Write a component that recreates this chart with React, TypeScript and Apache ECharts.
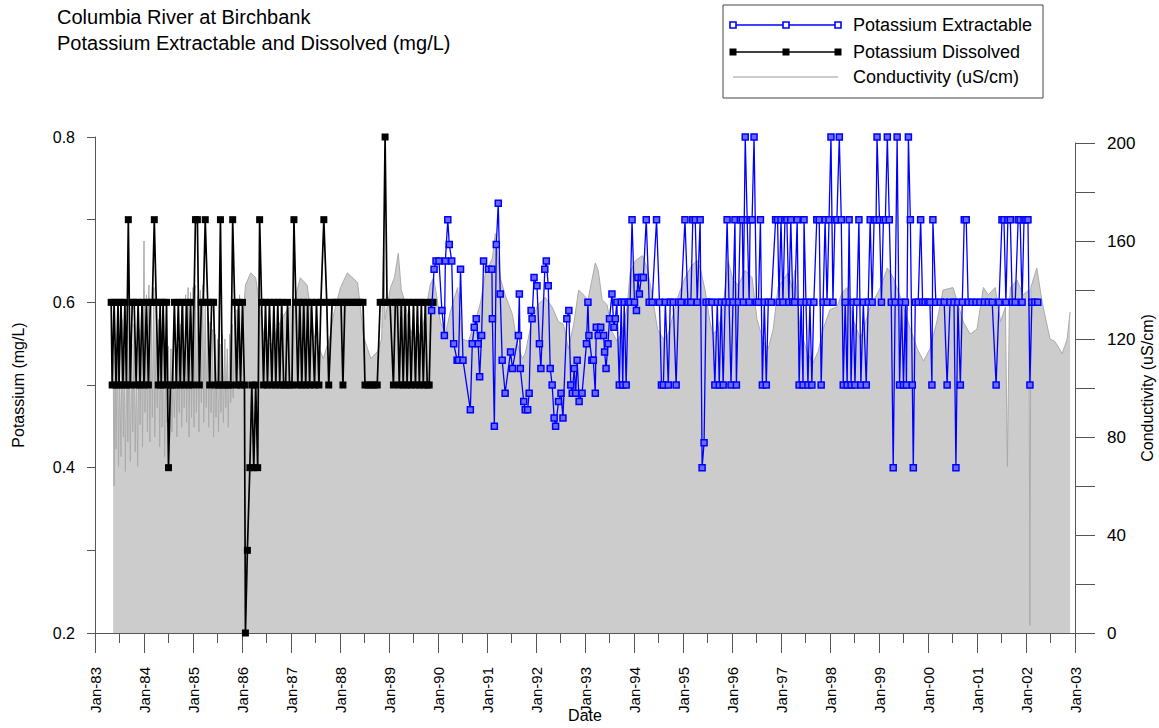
import React, { useEffect, useRef } from 'react';
import * as echarts from 'echarts';

const FONT = '"Liberation Sans", Arial, Helvetica, sans-serif';
const AXIS_COLOR = '#555555';

const titleLines = ['Columbia River at Birchbank', 'Potassium Extractable and Dissolved (mg/L)'];
const legendNames = ['Potassium Extractable', 'Potassium Dissolved', 'Conductivity (uS/cm)'];
const xAxisName = 'Date';
const leftAxisName = 'Potassium (mg/L)';
const rightAxisName = 'Conductivity (uS/cm)';
const potassiumLabels = [0.2, 0.4, 0.6, 0.8];
const conductivityLabels = [0, 40, 80, 120, 160, 200];

// Potassium Dissolved (mg/L): [decimal year, value]
const dissolvedK: [number, number][] = [
  [1983.33, 0.6], [1983.35, 0.5], [1983.39, 0.6], [1983.43, 0.5], [1983.47, 0.6], [1983.49, 0.5],
  [1983.53, 0.6], [1983.57, 0.5], [1983.61, 0.6], [1983.64, 0.5], [1983.68, 0.7], [1983.72, 0.5],
  [1983.76, 0.6], [1983.80, 0.6], [1983.84, 0.5], [1983.88, 0.6], [1983.92, 0.5], [1983.96, 0.6],
  [1984.00, 0.5], [1984.05, 0.6], [1984.09, 0.5], [1984.13, 0.6], [1984.17, 0.6], [1984.21, 0.7],
  [1984.25, 0.6], [1984.29, 0.5], [1984.33, 0.6], [1984.35, 0.5], [1984.39, 0.6], [1984.43, 0.5],
  [1984.46, 0.6], [1984.50, 0.4], [1984.54, 0.5], [1984.58, 0.5], [1984.62, 0.6], [1984.66, 0.5],
  [1984.70, 0.6], [1984.74, 0.5], [1984.78, 0.6], [1984.82, 0.5], [1984.87, 0.6], [1984.91, 0.5],
  [1984.95, 0.6], [1984.99, 0.5], [1985.05, 0.7], [1985.09, 0.7], [1985.13, 0.5], [1985.17, 0.6],
  [1985.21, 0.6], [1985.25, 0.7], [1985.30, 0.6], [1985.34, 0.5], [1985.38, 0.6], [1985.42, 0.6],
  [1985.46, 0.5], [1985.52, 0.5], [1985.56, 0.7], [1985.60, 0.5], [1985.66, 0.5], [1985.72, 0.5],
  [1985.77, 0.5], [1985.81, 0.7], [1985.85, 0.6], [1985.89, 0.5], [1985.93, 0.6], [1985.97, 0.5],
  [1986.01, 0.6], [1986.05, 0.5], [1986.07, 0.2], [1986.11, 0.3], [1986.16, 0.4], [1986.20, 0.5],
  [1986.24, 0.4], [1986.28, 0.5], [1986.32, 0.4], [1986.36, 0.7], [1986.40, 0.6], [1986.44, 0.5],
  [1986.48, 0.6], [1986.52, 0.5], [1986.56, 0.6], [1986.61, 0.5], [1986.65, 0.6], [1986.69, 0.5],
  [1986.73, 0.6], [1986.77, 0.5], [1986.81, 0.6], [1986.85, 0.5], [1986.89, 0.5], [1986.93, 0.6],
  [1986.97, 0.5], [1987.02, 0.5], [1987.06, 0.7], [1987.10, 0.6], [1987.14, 0.5], [1987.18, 0.6],
  [1987.22, 0.5], [1987.26, 0.6], [1987.30, 0.5], [1987.34, 0.6], [1987.38, 0.5], [1987.42, 0.6],
  [1987.48, 0.5], [1987.52, 0.6], [1987.57, 0.5], [1987.61, 0.6], [1987.67, 0.7], [1987.73, 0.6],
  [1987.77, 0.5], [1987.84, 0.6], [1987.90, 0.6], [1987.96, 0.6], [1988.02, 0.6], [1988.06, 0.5],
  [1988.10, 0.6], [1988.16, 0.6], [1988.23, 0.6], [1988.29, 0.6], [1988.35, 0.6], [1988.41, 0.6],
  [1988.47, 0.6], [1988.51, 0.5], [1988.57, 0.5], [1988.64, 0.5], [1988.70, 0.5], [1988.76, 0.5],
  [1988.82, 0.6], [1988.88, 0.6], [1988.92, 0.8], [1988.96, 0.6], [1989.02, 0.6], [1989.09, 0.5],
  [1989.13, 0.6], [1989.17, 0.6], [1989.21, 0.5], [1989.25, 0.6], [1989.29, 0.5], [1989.33, 0.6],
  [1989.37, 0.5], [1989.41, 0.6], [1989.45, 0.5], [1989.50, 0.6], [1989.54, 0.5], [1989.58, 0.6],
  [1989.62, 0.5], [1989.66, 0.6], [1989.70, 0.5], [1989.74, 0.6], [1989.78, 0.5], [1989.82, 0.5],
  [1989.86, 0.6], [1989.90, 0.6],
];

// Potassium Extractable (mg/L): [decimal year, value]
const extractableK: [number, number][] = [
  [1989.87, 0.59], [1989.92, 0.64], [1989.96, 0.65], [1990.02, 0.65], [1990.08, 0.59], [1990.13, 0.56],
  [1990.15, 0.65], [1990.20, 0.70], [1990.23, 0.67], [1990.28, 0.65], [1990.32, 0.55], [1990.39, 0.53],
  [1990.42, 0.53], [1990.46, 0.64], [1990.51, 0.53], [1990.66, 0.47], [1990.70, 0.55], [1990.74, 0.57],
  [1990.78, 0.58], [1990.82, 0.55], [1990.85, 0.51], [1990.89, 0.56], [1990.93, 0.65], [1991.03, 0.64],
  [1991.10, 0.64], [1991.11, 0.58], [1991.15, 0.45], [1991.19, 0.67], [1991.23, 0.72], [1991.27, 0.61],
  [1991.31, 0.53], [1991.37, 0.49], [1991.48, 0.54], [1991.52, 0.52], [1991.64, 0.56], [1991.66, 0.61],
  [1991.68, 0.52], [1991.75, 0.48], [1991.78, 0.47], [1991.83, 0.47], [1991.86, 0.49], [1991.90, 0.59],
  [1991.92, 0.58], [1991.96, 0.63], [1992.02, 0.62], [1992.07, 0.55], [1992.10, 0.52], [1992.18, 0.64],
  [1992.21, 0.65], [1992.25, 0.62], [1992.29, 0.52], [1992.33, 0.50], [1992.37, 0.46], [1992.40, 0.45],
  [1992.46, 0.48], [1992.51, 0.49], [1992.55, 0.46], [1992.63, 0.58], [1992.67, 0.59], [1992.71, 0.50],
  [1992.74, 0.49], [1992.78, 0.52], [1992.81, 0.49], [1992.84, 0.53], [1992.88, 0.48], [1992.94, 0.49],
  [1993.03, 0.55], [1993.06, 0.60], [1993.08, 0.56], [1993.14, 0.53], [1993.17, 0.53], [1993.21, 0.49],
  [1993.23, 0.57], [1993.27, 0.56], [1993.32, 0.57], [1993.38, 0.56], [1993.40, 0.54], [1993.43, 0.52],
  [1993.47, 0.55], [1993.50, 0.58], [1993.55, 0.61], [1993.59, 0.57], [1993.62, 0.58], [1993.65, 0.60],
  [1993.70, 0.50], [1993.74, 0.60], [1993.77, 0.50], [1993.80, 0.60], [1993.84, 0.50], [1993.88, 0.60],
  [1993.92, 0.60], [1993.96, 0.70], [1994.01, 0.60], [1994.05, 0.59], [1994.08, 0.63], [1994.11, 0.61],
  [1994.15, 0.63], [1994.19, 0.63], [1994.25, 0.70], [1994.31, 0.60], [1994.37, 0.60], [1994.46, 0.70],
  [1994.52, 0.60], [1994.56, 0.50], [1994.60, 0.50], [1994.64, 0.60], [1994.70, 0.50], [1994.74, 0.60],
  [1994.80, 0.60], [1994.86, 0.50], [1994.91, 0.60], [1994.96, 0.60], [1995.04, 0.70], [1995.10, 0.60],
  [1995.16, 0.60], [1995.20, 0.70], [1995.25, 0.70], [1995.29, 0.60], [1995.35, 0.70], [1995.39, 0.40],
  [1995.43, 0.43], [1995.47, 0.60], [1995.53, 0.60], [1995.59, 0.60], [1995.65, 0.50], [1995.70, 0.60],
  [1995.74, 0.50], [1995.78, 0.60], [1995.82, 0.50], [1995.86, 0.60], [1995.90, 0.70], [1995.94, 0.60],
  [1995.98, 0.50], [1996.02, 0.60], [1996.06, 0.70], [1996.09, 0.50], [1996.13, 0.60], [1996.17, 0.70],
  [1996.21, 0.70], [1996.23, 0.60], [1996.27, 0.80], [1996.31, 0.70], [1996.35, 0.60], [1996.37, 0.70],
  [1996.41, 0.70], [1996.45, 0.80], [1996.50, 0.60], [1996.54, 0.60], [1996.58, 0.70], [1996.62, 0.50],
  [1996.66, 0.60], [1996.70, 0.50], [1996.74, 0.60], [1996.80, 0.60], [1996.89, 0.70], [1996.93, 0.70],
  [1996.96, 0.60], [1997.00, 0.70], [1997.04, 0.60], [1997.08, 0.70], [1997.12, 0.70], [1997.16, 0.60],
  [1997.20, 0.70], [1997.24, 0.60], [1997.28, 0.60], [1997.33, 0.70], [1997.37, 0.50], [1997.41, 0.60],
  [1997.45, 0.50], [1997.47, 0.70], [1997.51, 0.60], [1997.55, 0.50], [1997.59, 0.60], [1997.63, 0.50],
  [1997.67, 0.60], [1997.73, 0.70], [1997.78, 0.70], [1997.82, 0.50], [1997.86, 0.60], [1997.90, 0.70],
  [1997.94, 0.60], [1997.98, 0.70], [1998.02, 0.80], [1998.06, 0.60], [1998.10, 0.70], [1998.14, 0.70],
  [1998.19, 0.80], [1998.23, 0.70], [1998.27, 0.50], [1998.31, 0.60], [1998.35, 0.50], [1998.39, 0.70],
  [1998.43, 0.50], [1998.47, 0.60], [1998.51, 0.50], [1998.55, 0.60], [1998.59, 0.70], [1998.63, 0.50],
  [1998.68, 0.60], [1998.74, 0.50], [1998.78, 0.60], [1998.82, 0.70], [1998.86, 0.60], [1998.90, 0.70],
  [1998.94, 0.70], [1998.96, 0.80], [1999.01, 0.70], [1999.05, 0.60], [1999.09, 0.70], [1999.13, 0.70],
  [1999.17, 0.80], [1999.21, 0.70], [1999.25, 0.60], [1999.29, 0.40], [1999.33, 0.60], [1999.37, 0.80],
  [1999.42, 0.50], [1999.46, 0.60], [1999.50, 0.50], [1999.54, 0.60], [1999.56, 0.50], [1999.60, 0.80],
  [1999.64, 0.70], [1999.68, 0.50], [1999.70, 0.40], [1999.74, 0.60], [1999.80, 0.60], [1999.85, 0.70],
  [1999.89, 0.60], [1999.94, 0.60], [2000.00, 0.60], [2000.04, 0.60], [2000.08, 0.50], [2000.10, 0.70],
  [2000.16, 0.60], [2000.25, 0.60], [2000.33, 0.60], [2000.39, 0.50], [2000.45, 0.60], [2000.53, 0.60],
  [2000.57, 0.40], [2000.61, 0.60], [2000.66, 0.50], [2000.70, 0.60], [2000.74, 0.70], [2000.78, 0.70],
  [2000.82, 0.60], [2000.90, 0.60], [2000.98, 0.60], [2001.06, 0.60], [2001.15, 0.60], [2001.23, 0.60],
  [2001.31, 0.60], [2001.39, 0.50], [2001.45, 0.60], [2001.51, 0.70], [2001.55, 0.70], [2001.59, 0.60],
  [2001.63, 0.70], [2001.68, 0.70], [2001.72, 0.60], [2001.78, 0.60], [2001.84, 0.70], [2001.88, 0.70],
  [2001.92, 0.60], [2001.96, 0.70], [2002.00, 0.70], [2002.04, 0.70], [2002.08, 0.50], [2002.12, 0.60],
  [2002.18, 0.60], [2002.24, 0.60],
];

// Conductivity (uS/cm): [decimal year, value]
const conductivity: [number, number][] = [
  [1983.37, 112], [1983.39, 60], [1983.41, 118], [1983.43, 75], [1983.46, 125], [1983.48, 68],
  [1983.50, 110], [1983.53, 72], [1983.55, 128], [1983.58, 80], [1983.60, 115], [1983.62, 66],
  [1983.65, 122], [1983.67, 78], [1983.70, 130], [1983.72, 70], [1983.75, 118], [1983.77, 82],
  [1983.80, 126], [1983.82, 74], [1983.85, 112], [1983.87, 68], [1983.90, 124], [1983.92, 85],
  [1983.95, 131], [1983.97, 76], [1984.00, 160], [1984.02, 90], [1984.05, 138], [1984.07, 82],
  [1984.10, 142], [1984.12, 78], [1984.15, 136], [1984.17, 88], [1984.20, 141], [1984.22, 80],
  [1984.25, 133], [1984.27, 92], [1984.30, 128], [1984.32, 76], [1984.35, 124], [1984.37, 84],
  [1984.40, 120], [1984.42, 72], [1984.45, 118], [1984.47, 86], [1984.50, 117], [1984.52, 78],
  [1984.55, 116], [1984.57, 82], [1984.60, 112], [1984.62, 88], [1984.65, 114], [1984.67, 80],
  [1984.70, 118], [1984.72, 90], [1984.75, 126], [1984.77, 84], [1984.80, 134], [1984.82, 92],
  [1984.85, 138], [1984.87, 86], [1984.90, 141], [1984.92, 80], [1984.95, 139], [1984.97, 88],
  [1985.00, 141], [1985.02, 84], [1985.05, 142], [1985.07, 90], [1985.10, 138], [1985.12, 82],
  [1985.15, 140], [1985.17, 94], [1985.20, 142], [1985.22, 86], [1985.25, 136], [1985.27, 92],
  [1985.30, 130], [1985.32, 84], [1985.35, 127], [1985.37, 90], [1985.40, 124], [1985.42, 80],
  [1985.45, 122], [1985.47, 88], [1985.50, 120], [1985.52, 82], [1985.55, 118], [1985.57, 90],
  [1985.60, 122], [1985.62, 86], [1985.65, 120], [1985.67, 92], [1985.70, 116], [1985.72, 84],
  [1985.75, 122], [1985.77, 94], [1985.80, 126], [1985.82, 96], [1985.85, 129], [1985.87, 100],
  [1985.90, 132], [1985.92, 108], [1985.95, 138], [1985.97, 112],
  [1986.07, 142], [1986.18, 147], [1986.28, 145], [1986.44, 122], [1986.59, 117], [1986.73, 125],
  [1986.92, 132], [1987.05, 134], [1987.19, 145], [1987.33, 142], [1987.46, 122], [1987.54, 118],
  [1987.66, 112], [1987.81, 122], [1987.87, 130], [1988.01, 141], [1988.15, 147], [1988.36, 143],
  [1988.48, 121], [1988.63, 112], [1988.77, 115], [1988.85, 120], [1988.89, 158], [1988.92, 128],
  [1989.03, 141], [1989.11, 145], [1989.19, 155], [1989.25, 140], [1989.33, 135], [1989.43, 124],
  [1989.58, 119], [1989.70, 126], [1989.84, 142], [1989.91, 145], [1989.97, 138], [1990.05, 127],
  [1990.15, 122], [1990.25, 131], [1990.40, 141], [1990.50, 120], [1990.62, 119], [1990.77, 128],
  [1990.87, 135], [1990.97, 147], [1991.11, 153], [1991.17, 163], [1991.27, 145], [1991.37, 138],
  [1991.52, 130], [1991.62, 118], [1991.72, 112], [1991.78, 114], [1991.92, 128], [1992.04, 134],
  [1992.19, 137], [1992.33, 133], [1992.46, 127], [1992.56, 126], [1992.66, 116], [1992.77, 126],
  [1992.87, 140], [1992.97, 138], [1993.06, 136], [1993.21, 151], [1993.27, 148], [1993.35, 136],
  [1993.45, 134], [1993.55, 123], [1993.66, 119], [1993.76, 123], [1993.86, 133], [1993.92, 147],
  [1994.03, 152], [1994.17, 154], [1994.27, 149], [1994.37, 138], [1994.48, 124], [1994.60, 120],
  [1994.70, 122], [1994.80, 130], [1994.91, 138], [1995.04, 145], [1995.18, 150], [1995.29, 152],
  [1995.35, 149], [1995.45, 140], [1995.55, 127], [1995.61, 122], [1995.72, 124], [1995.82, 133],
  [1995.92, 152], [1996.02, 144], [1996.13, 142], [1996.27, 148], [1996.41, 145], [1996.51, 128],
  [1996.64, 119], [1996.74, 116], [1996.84, 124], [1996.94, 141], [1997.04, 144], [1997.14, 147],
  [1997.24, 140], [1997.28, 148], [1997.39, 124], [1997.53, 115], [1997.65, 110], [1997.76, 115],
  [1997.86, 124], [1998.00, 132], [1998.14, 133], [1998.25, 139], [1998.35, 141], [1998.47, 128],
  [1998.62, 120], [1998.82, 133], [1999.03, 141], [1999.17, 149], [1999.29, 145], [1999.44, 137],
  [1999.64, 124], [1999.78, 116], [1999.91, 111], [2000.04, 116], [2000.18, 127], [2000.31, 140],
  [2000.51, 141], [2000.72, 127], [2000.86, 122], [2001.00, 124], [2001.13, 141], [2001.23, 138],
  [2001.37, 141], [2001.48, 127], [2001.58, 133], [2001.62, 68], [2001.66, 132], [2001.68, 141],
  [2001.82, 144], [2001.94, 138], [2002.06, 140], [2002.08, 3], [2002.10, 141], [2002.22, 149],
  [2002.33, 135], [2002.49, 120], [2002.59, 119], [2002.74, 114], [2002.84, 120], [2002.90, 131],
];

const X_MIN = 1983;
const X_MAX = 2003;

function buildOption() {
  const labelK = (v: number) => {
    const r = Math.round(v * 10) / 10;
    return potassiumLabels.some((p) => Math.abs(p - r) < 1e-6) ? r.toFixed(1) : '';
  };
  const labelC = (v: number) => (conductivityLabels.includes(Math.round(v)) ? String(Math.round(v)) : '');
  const labelX = (v: number) => 'Jan-' + String(Math.round(v) % 100).padStart(2, '0');

  const legendY = [25, 52, 77];
  const legendMarkX = [733, 786, 838];
  const graphic: any[] = [
    {
      type: 'text', left: 57, top: 7,
      style: { text: titleLines[0], fontSize: 20, fontFamily: FONT, fill: '#000' },
    },
    {
      type: 'text', left: 57, top: 33,
      style: { text: titleLines[1], fontSize: 20, fontFamily: FONT, fill: '#000' },
    },
    {
      type: 'rect', shape: { x: 723, y: 5, width: 320, height: 93 },
      style: { fill: '#ffffff', stroke: '#444444', lineWidth: 1 }, z: 10,
    },
    {
      type: 'line', shape: { x1: 733, y1: legendY[0], x2: 838, y2: legendY[0] },
      style: { stroke: '#0000ff', lineWidth: 1.3 }, z: 11,
    },
    {
      type: 'line', shape: { x1: 733, y1: legendY[1], x2: 838, y2: legendY[1] },
      style: { stroke: '#000000', lineWidth: 1.5 }, z: 11,
    },
    {
      type: 'line', shape: { x1: 733, y1: legendY[2], x2: 838, y2: legendY[2] },
      style: { stroke: '#cccccc', lineWidth: 2 }, z: 11,
    },
  ];
  legendMarkX.forEach((mx) => {
    graphic.push({
      type: 'rect', shape: { x: mx - 3, y: legendY[0] - 3, width: 6, height: 6 },
      style: { fill: '#ffffff', stroke: '#0000ff', lineWidth: 1.6 }, z: 12,
    });
    graphic.push({
      type: 'rect', shape: { x: mx - 3.5, y: legendY[1] - 3.5, width: 7, height: 7 },
      style: { fill: '#000000' }, z: 12,
    });
  });
  legendNames.forEach((name, i) => {
    graphic.push({
      type: 'text', x: 853, y: legendY[i],
      style: { text: name, fontSize: 18, fontFamily: FONT, fill: '#000', verticalAlign: 'middle' }, z: 12,
    });
  });

  const axisLine = { show: true, lineStyle: { color: AXIS_COLOR, width: 1 } };
  const nameStyle = { fontSize: 16, fontFamily: FONT, color: '#000' };

  return {
    animation: false,
    textStyle: { fontFamily: FONT },
    grid: [
      { left: 95, right: 84, top: 137, bottom: 95, containLabel: false, outerBoundsMode: 'none' },
      { left: 95, right: 84, top: 143, bottom: 95, containLabel: false, outerBoundsMode: 'none' },
    ],
    xAxis: [
      {
        gridIndex: 0, type: 'value', min: X_MIN, max: X_MAX, interval: 1,
        axisLine,
        axisTick: { show: true, length: 20, lineStyle: { color: AXIS_COLOR } },
        minorTick: { show: true, splitNumber: 2, length: 10, lineStyle: { color: AXIS_COLOR } },
        axisLabel: { rotate: 90, margin: 34, color: '#000', fontSize: 15, fontFamily: FONT, formatter: labelX },
        splitLine: { show: false },
        name: xAxisName, nameLocation: 'middle', nameGap: 74, nameMoveOverlap: false,
        nameTextStyle: nameStyle,
      },
      { gridIndex: 1, type: 'value', min: X_MIN, max: X_MAX, show: false },
    ],
    yAxis: [
      {
        gridIndex: 0, type: 'value', min: 0.2, max: 0.8, interval: 0.1, position: 'left',
        axisLine,
        axisTick: { show: true, length: 8, lineStyle: { color: AXIS_COLOR } },
        axisLabel: { color: '#000', fontSize: 16, fontFamily: FONT, margin: 20, formatter: labelK },
        splitLine: { show: false },
        name: leftAxisName, nameLocation: 'middle', nameGap: 69, nameRotate: 90, nameMoveOverlap: false,
        nameTextStyle: nameStyle,
      },
      {
        gridIndex: 1, type: 'value', min: 0, max: 200, interval: 20, position: 'right',
        axisLine,
        axisTick: { show: true, length: 20, lineStyle: { color: AXIS_COLOR } },
        axisLabel: { color: '#000', fontSize: 17, fontFamily: FONT, margin: 32, formatter: labelC },
        splitLine: { show: false },
        name: rightAxisName, nameLocation: 'middle', nameGap: 64, nameRotate: 90, nameMoveOverlap: false,
        nameTextStyle: nameStyle,
      },
    ],
    series: [
      {
        name: legendNames[2], type: 'line', xAxisIndex: 1, yAxisIndex: 1, data: conductivity,
        showSymbol: false, symbol: 'none', z: 1,
        lineStyle: { color: '#aaaaaa', width: 1 },
        areaStyle: { color: '#cccccc', opacity: 1 },
      },
      {
        name: legendNames[1], type: 'line', xAxisIndex: 0, yAxisIndex: 0, data: dissolvedK, z: 3,
        symbol: 'rect', symbolSize: 7, showAllSymbol: true,
        lineStyle: { color: '#000000', width: 1.7 },
        itemStyle: { color: '#000000' },
      },
      {
        name: legendNames[0], type: 'line', xAxisIndex: 0, yAxisIndex: 0, data: extractableK, z: 4,
        symbol: 'rect', symbolSize: 6, showAllSymbol: true,
        lineStyle: { color: '#0000ff', width: 1.3 },
        itemStyle: { color: '#6b6bff', borderColor: '#0000ff', borderWidth: 1.5 },
      },
    ],
    graphic,
  };
}

export default function App() {
  const ref = useRef<HTMLDivElement>(null);
  useEffect(() => {
    if (!ref.current) return;
    const chart = echarts.init(ref.current, undefined, { renderer: 'svg' });
    chart.setOption(buildOption() as any);
    return () => chart.dispose();
  }, []);
  return (
    <div
      ref={ref}
      style={{ position: 'absolute', left: 0, top: 0, width: 1159, height: 728, background: '#ffffff' }}
    />
  );
}
